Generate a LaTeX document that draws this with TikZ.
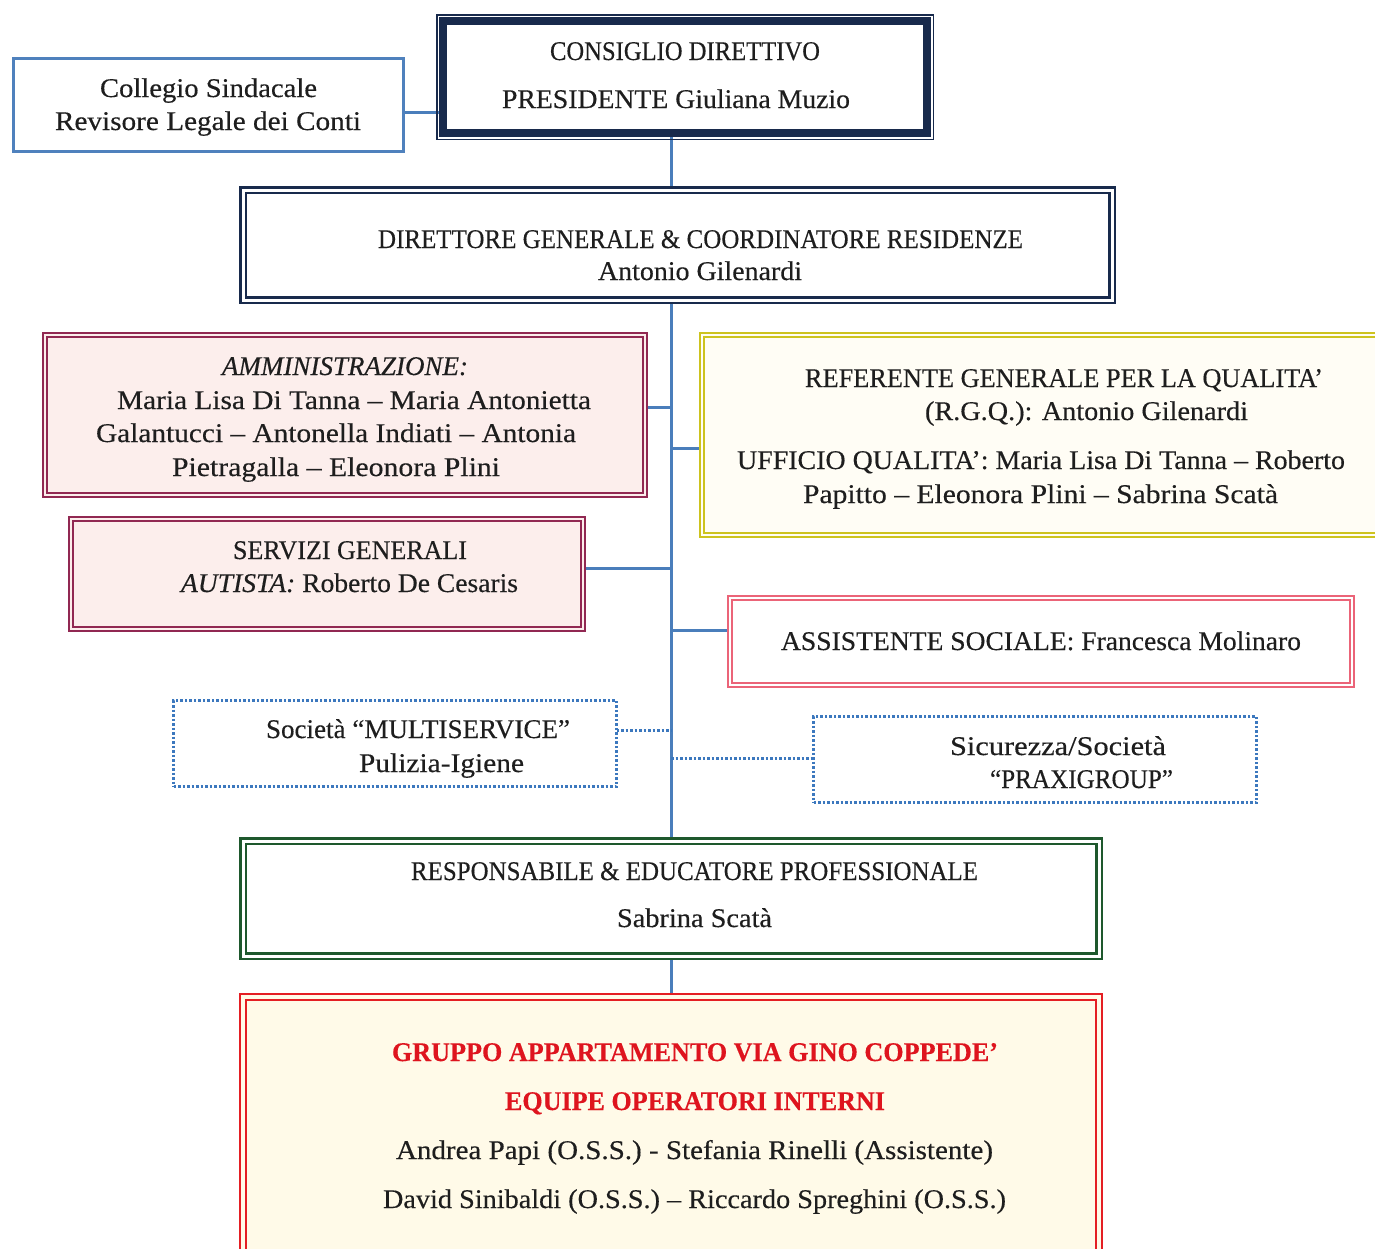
\documentclass[tikz,border=0pt]{standalone}
\usepackage{fontspec}
\setmainfont{Liberation Serif}[FakeBold=0.35]
\usepackage{graphicx}
\usetikzlibrary{backgrounds}
\definecolor{cblue}{RGB}{74,126,187}
\definecolor{bblue}{RGB}{79,129,189}
\definecolor{dblue}{RGB}{60,120,190}
\definecolor{navy}{RGB}{24,42,76}
\definecolor{maroon}{RGB}{145,40,82}
\definecolor{pinkfill}{RGB}{252,238,236}
\definecolor{yborder}{RGB}{205,195,30}
\definecolor{yfill}{RGB}{255,253,245}
\definecolor{pborder}{RGB}{235,100,120}
\definecolor{gborder}{RGB}{30,88,45}
\definecolor{rborder}{RGB}{228,30,35}
\definecolor{rfill}{RGB}{255,250,232}
\definecolor{redtxt}{RGB}{222,20,30}
\definecolor{txtc}{RGB}{30,30,30}
\newlength\fitlen
\newcommand\fitw[2]{\settowidth{\fitlen}{#2}\scalebox{\fpeval{#1/\fitlen}}[1]{#2}}
\begin{document}
\begin{tikzpicture}[x=1pt,y=-1pt,
  base/.style={rectangle,inner sep=0pt,outer sep=0pt},
  txt/.style={anchor=base,inner sep=0pt,outer sep=0pt,text=txtc,font=\fontsize{27}{32}\selectfont},
  conn/.style={draw=cblue,line width=3pt},
  dconn/.style={draw=dblue,line width=3pt,dash pattern=on 2.5pt off 2pt},
  blueb/.style={base,draw=bblue,line width=3pt,fill=white},
  navyd/.style={base,draw=navy,line width=2.5pt,double=white,double distance=3pt},
  maroond/.style={base,draw=maroon,line width=1.8pt,double=pinkfill,double distance=2.4pt,fill=pinkfill},
  yellowd/.style={base,draw=yborder,line width=2pt,double=yfill,double distance=2.5pt,fill=yfill},
  pinkd/.style={base,draw=pborder,line width=1.8pt,double=white,double distance=2.5pt,fill=white},
  dotb/.style={base,draw=dblue,line width=3pt,dash pattern=on 2.5pt off 2pt,fill=white},
  greend/.style={base,draw=gborder,line width=2.5pt,double=white,double distance=3pt,fill=white},
  redd/.style={base,draw=rborder,line width=2.5pt,double=rfill,double distance=3.5pt,fill=rfill},
]
\useasboundingbox (0,0) rectangle (1375,1248);
\coordinate (sp) at (671,0);

% boxes
\node[blueb,minimum width=390pt,minimum height=93pt] (col) at (208.5,105) {};
\node[base,draw=navy,line width=8pt,fill=white,minimum width=484pt,minimum height=112pt] (cd) at (685,77) {};
\draw[navy,line width=1.5pt] ([xshift=-6.25pt,yshift=6.25pt]cd.north west) rectangle ([xshift=6.25pt,yshift=-6.25pt]cd.south east);
\node[navyd,fill=white,minimum width=869pt,minimum height=110pt] (dg) at (677.5,245) {};
\node[maroond,minimum width=600pt,minimum height=160pt] (am) at (345,415) {};
\node[maroond,minimum width=512pt,minimum height=110pt] (sv) at (327,574) {};
\node[yellowd,minimum width=678pt,minimum height=200pt] (ref) at (1041,435) {};
\node[pinkd,minimum width=622pt,minimum height=87pt] (as) at (1041,641.5) {};
\node[dotb,minimum width=443pt,minimum height=86pt] (mu) at (395,743.5) {};
\node[dotb,minimum width=443pt,minimum height=86pt] (si) at (1035,759.5) {};
\node[greend,minimum width=856pt,minimum height=115pt] (rp) at (671,898.5) {};
\node[redd,minimum width=856pt,minimum height=265pt] (gr) at (671,1129.5) {};

% connectors
\begin{scope}[on background layer]
\fill[white] (0,0) rectangle (1375,1248);
\draw[conn] (col.east |- 0,112) -- (cd.west |- 0,112);
\draw[conn] (cd.south -| sp) -- (dg.north -| sp);
\draw[conn] (dg.south -| sp) -- (rp.north -| sp);
\draw[conn] (rp.south -| sp) -- (gr.north -| sp);
\draw[conn] (am.east |- 0,407) -- (sp |- 0,407);
\draw[conn] (sp |- 0,448) -- (ref.west |- 0,448);
\draw[conn] (sv.east |- 0,568) -- (sp |- 0,568);
\draw[conn] (sp |- 0,630) -- (as.west |- 0,630);
\draw[dconn] (mu.east |- 0,730) -- (sp |- 0,730);
\draw[dconn] (sp |- 0,758) -- (si.west |- 0,758);
\end{scope}

% texts
\node[txt] (col1) at (208.5,97) {\fitw{217}{Collegio Sindacale}};
\node[txt] (col2) at (208,130) {\fitw{306}{Revisore Legale dei Conti}};
\node[txt] (cd1) at (685,60) {\fitw{270}{CONSIGLIO DIRETTIVO}};
\node[txt] (cd2) at (676,108) {\fitw{348}{PRESIDENTE Giuliana Muzio}};
\node[txt] (dg1) at (700.5,248) {\fitw{645}{DIRETTORE GENERALE \& COORDINATORE RESIDENZE}};
\node[txt] (dg2) at (700,280) {\fitw{204}{Antonio Gilenardi}};
\node[txt] (am1) at (345,375) {\fitw{246}{\itshape AMMINISTRAZIONE:}};
\node[txt] (am2) at (354,409) {\fitw{474}{Maria Lisa Di Tanna – Maria Antonietta}};
\node[txt] (am3) at (336,442) {\fitw{480}{Galantucci – Antonella Indiati – Antonia}};
\node[txt] (am4) at (336,476) {\fitw{328}{Pietragalla – Eleonora Plini}};
\node[txt] (sv1) at (350,559) {\fitw{234}{SERVIZI GENERALI}};
\node[txt] (sv2) at (349.5,592) {\fitw{337}{\textit{AUTISTA:} Roberto De Cesaris}};
\node[txt] (ref1) at (1064,387) {\fitw{518}{REFERENTE GENERALE PER LA QUALITA’}};
\node[txt] (ref2) at (1086.5,420) {\fitw{323}{(R.G.Q.): Antonio Gilenardi}};
\node[txt] (ref3) at (1041,469) {\fitw{608}{UFFICIO QUALITA’: Maria Lisa Di Tanna – Roberto}};
\node[txt] (ref4) at (1040.5,503) {\fitw{475}{Papitto – Eleonora Plini – Sabrina Scatà}};
\node[txt] (as1) at (1041,650) {\fitw{520}{ASSISTENTE SOCIALE: Francesca Molinaro}};
\node[txt] (mu1) at (418,738) {\fitw{304}{Società “MULTISERVICE”}};
\node[txt] (mu2) at (441.5,772) {\fitw{165}{Pulizia-Igiene}};
\node[txt] (si1) at (1058,755) {\fitw{216}{Sicurezza/Società}};
\node[txt] (si2) at (1081.5,788) {\fitw{183}{“PRAXIGROUP”}};
\node[txt] (rp1) at (694.5,880) {\fitw{567}{RESPONSABILE \& EDUCATORE PROFESSIONALE}};
\node[txt] (rp2) at (694.5,927) {\fitw{155}{Sabrina Scatà}};
\node[txt,text=redtxt] (gr1) at (695,1061) {\fitw{606}{\bfseries GRUPPO APPARTAMENTO VIA GINO COPPEDE’}};
\node[txt,text=redtxt] (gr2) at (695,1110) {\fitw{380}{\bfseries EQUIPE OPERATORI INTERNI}};
\node[txt] (gr3) at (694.5,1159) {\fitw{597}{Andrea Papi (O.S.S.) - Stefania Rinelli (Assistente)}};
\node[txt] (gr4) at (694.5,1208) {\fitw{623}{David Sinibaldi (O.S.S.) – Riccardo Spreghini (O.S.S.)}};
\end{tikzpicture}
\end{document}
